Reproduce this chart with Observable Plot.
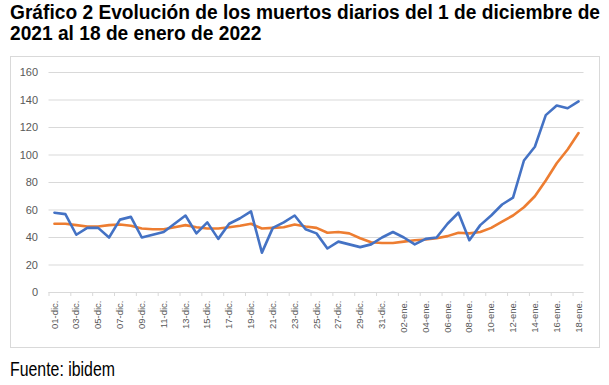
<!DOCTYPE html>
<html>
<head>
<meta charset="utf-8">
<script src="https://cdn.jsdelivr.net/npm/d3@7"></script>
<script src="https://cdn.jsdelivr.net/npm/@observablehq/plot@0.6"></script>
<style>
  html, body { margin: 0; padding: 0; background: #fff; width: 609px; height: 385px; overflow: hidden; }
  body { position: relative; font-family: "Liberation Sans", Arial, sans-serif; }
  .title { position: absolute; left: 10px; font-weight: bold; font-size: 20px; color: #000; white-space: nowrap; transform-origin: 0 0; line-height: 21px; }
  #frame { position: absolute; left: 10px; top: 56px; width: 588px; height: 290px; border: 1px solid #d9d9d9; }
  #fuente { position: absolute; left: 10px; top: 358px; font-size: 19.5px; line-height: 22px; color: #000; white-space: nowrap; transform-origin: 0 0; }
</style>
</head>
<body>
<div class="title" id="t1" style="top:2px">Gráfico 2 Evolución de los muertos diarios del 1 de diciembre de</div>
<div class="title" id="t2" style="top:23px">2021 al 18 de enero de 2022</div>
<div id="frame"></div>
<div id="fuente">Fuente: ibidem</div>
<script>
const dicDays = d3.range(1, 32).map(d => String(d).padStart(2, "0") + "-dic.");
const eneDays = d3.range(1, 19).map(d => String(d).padStart(2, "0") + "-ene.");
const fechas = [...dicDays, ...eneDays];

const muertosDiarios = [
  58, 57, 42, 47, 47, 40, 53, 55, 40, 42, 44, 50, 56, 43, 51, 39, 50, 54, 59, 29, 47, 51, 56, 46, 43, 32, 37, 35, 33, 35, 40,
  44, 40, 35, 39, 40, 50, 58, 38, 49, 56, 64, 69, 96, 106, 129, 136, 134, 139
];
const mediaMovil = [
  50, 50, 49, 48, 48, 49, 49.5, 48.5, 46.5, 46, 46, 47.5, 49, 47.5, 46.5, 46.5, 47.5, 48.5, 50, 46.5, 47, 47.5, 49.5, 48, 47, 43.5, 44, 43, 39.5, 36.5, 36,
  36, 37, 38, 38.5, 39.5, 41, 43.5, 43, 44, 47, 51.5, 56, 62, 70, 81.5, 94, 104, 116
];
const yTicks = [0, 20, 40, 60, 80, 100, 120, 140, 160];
const xLabels = fechas.filter((d, i) => i % 2 === 0);

const serieA = fechas.map((f, i) => ({fecha: f, valor: muertosDiarios[i]}));
const serieB = fechas.map((f, i) => ({fecha: f, valor: mediaMovil[i]}));

const W = 588, H = 290, mL = 37.5, mR = 15.5;
const step = (W - mL - mR) / fechas.length;

const chart = Plot.plot({
  width: W,
  height: H,
  marginLeft: mL,
  marginRight: mR,
  marginTop: 15,
  marginBottom: 55,
  style: {fontFamily: "'Liberation Sans', Arial, sans-serif", background: "transparent", color: "#595959"},
  x: {type: "point", domain: fechas, padding: 0.5},
  y: {domain: [0, 160]},
  marks: [
    Plot.gridY(yTicks, {stroke: "#d9d9d9", strokeOpacity: 1, strokeWidth: 1}),
    Plot.axisY({ticks: yTicks, tickSize: 0, tickPadding: 11, fontSize: 11, fill: "#595959", label: null}),
    Plot.axisX({ticks: xLabels, tickSize: 4, tickFormat: () => "", dx: -step / 2, stroke: "#d9d9d9", label: null}),
    Plot.axisX({ticks: xLabels, tickSize: 0, tickPadding: 8, tickRotate: -90, fontSize: 9.5, fill: "#595959", label: null}),
    Plot.line(serieB, {x: "fecha", y: "valor", stroke: "#ED7D31", strokeWidth: 2.6, strokeLinejoin: "round", strokeLinecap: "round"}),
    Plot.line(serieA, {x: "fecha", y: "valor", stroke: "#4472C4", strokeWidth: 2.6, strokeLinejoin: "round", strokeLinecap: "round"})
  ]
});
document.getElementById("frame").appendChild(chart);

function squeeze(el, target) {
  const w = el.getBoundingClientRect().width;
  return target / w;
}
const t1 = document.getElementById("t1"), t2 = document.getElementById("t2");
const s = squeeze(t1, 590);
t1.style.transform = `scaleX(${s})`;
t2.style.transform = `scaleX(${s})`;
const fu = document.getElementById("fuente");
fu.style.transform = `scaleX(${squeeze(fu, 105)})`;
</script>
</body>
</html>
